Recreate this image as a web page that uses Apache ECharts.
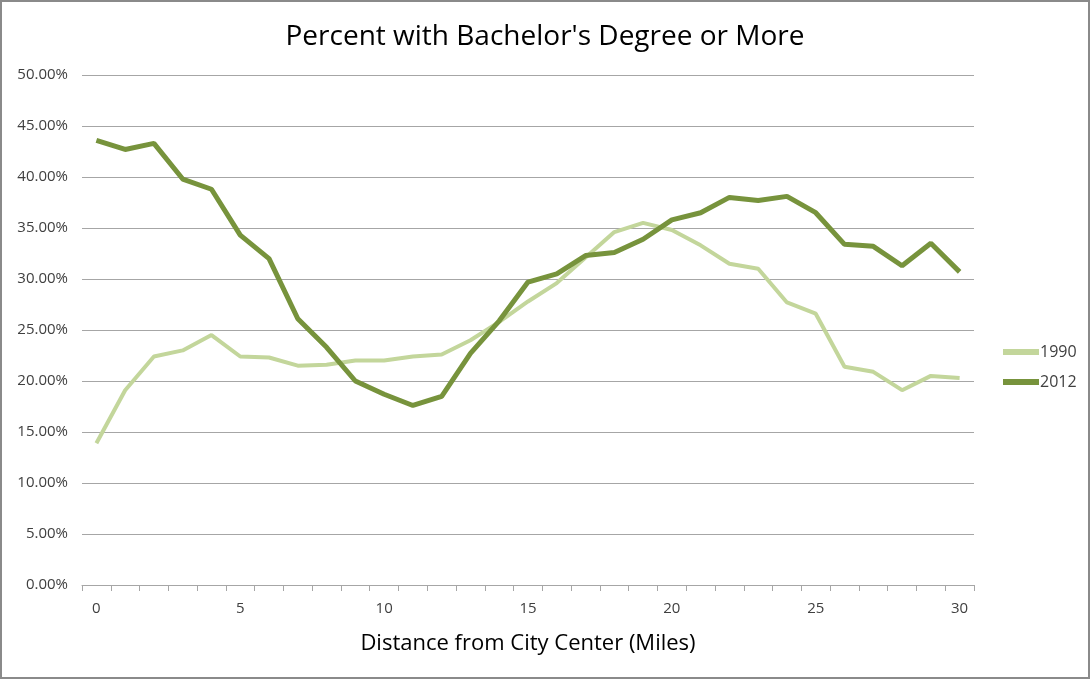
<!DOCTYPE html>
<html>
<head>
<meta charset="utf-8">
<title>Percent with Bachelor's Degree or More</title>
<script src="https://cdn.jsdelivr.net/npm/echarts@6/dist/echarts.min.js"></script>
<style>
  html, body { margin: 0; padding: 0; background: #fff; }
  #chart {
    width: 1090px; height: 679px;
    box-sizing: border-box;
    border: 2px solid #8a8a8a;
  }
</style>
</head>
<body>
<div id="chart"></div>
<script>
// distance from city center, miles
var miles = [];
for (var m = 0; m <= 30; m++) { miles.push(String(m)); }

// share of adults with a bachelor's degree or more (%)
var pct1990 = [13.9, 19.1, 22.4, 23.0, 24.5, 22.4, 22.3, 21.5, 21.6, 22.0,
  22.0, 22.4, 22.6, 24.0, 25.8, 27.8, 29.6, 32.1, 34.6, 35.5,
  34.8, 33.3, 31.5, 31.0, 27.7, 26.6, 21.4, 20.9, 19.1, 20.5, 20.3];
var pct2012 = [43.6, 42.7, 43.3, 39.8, 38.8, 34.3, 32.0, 26.1, 23.3, 20.0,
  18.7, 17.6, 18.5, 22.7, 25.9, 29.7, 30.5, 32.3, 32.6, 33.9,
  35.8, 36.5, 38.0, 37.7, 38.1, 36.5, 33.4, 33.2, 31.3, 33.5, 30.7];

var fontFam = '"Open Sans", "Noto Sans", sans-serif';
var chart = echarts.init(document.getElementById('chart'));

chart.setOption({
  backgroundColor: '#fff',
  animation: false,
  color: ['#c3d69b', '#77933c'],
  title: {
    text: "Percent with Bachelor's Degree or More",
    left: 'center',
    top: 16,
    textStyle: { fontFamily: fontFam, fontSize: 28, fontWeight: 'normal', color: '#000' }
  },
  legend: {
    orient: 'vertical',
    left: 996,
    top: 337,
    itemWidth: 36,
    itemHeight: 6,
    itemGap: 14,
    icon: 'rect',
    textStyle: { fontFamily: fontFam, fontSize: 16, color: '#404040', padding: [0, 0, 0, -4] },
    data: ['1990', '2012']
  },
  grid: { left: 80, right: 114, top: 73, bottom: 92 },
  xAxis: {
    type: 'category',
    data: miles,
    boundaryGap: true,
    name: 'Distance from City Center (Miles)',
    nameLocation: 'middle',
    nameGap: 48,
    nameTextStyle: { fontFamily: fontFam, fontSize: 22, color: '#000' },
    axisLine: { lineStyle: { color: '#a6a6a6', width: 1 } },
    axisTick: { show: true, interval: 0, length: 6, inside: false, lineStyle: { color: '#a6a6a6' } },
    axisLabel: {
      interval: function (i) { return i % 5 === 0; },
      margin: 16,
      fontFamily: fontFam, fontSize: 15, color: '#404040'
    }
  },
  yAxis: {
    type: 'value',
    min: 0,
    max: 50,
    interval: 5,
    axisLine: { show: false },
    axisTick: { show: false },
    axisLabel: {
      margin: 14,
      fontFamily: fontFam, fontSize: 15, color: '#404040',
      formatter: function (v) { return v.toFixed(2) + '%'; }
    },
    splitLine: { lineStyle: { color: '#a6a6a6', width: 1 } }
  },
  series: [
    {
      name: '1990', type: 'line', data: pct1990,
      symbol: 'none', lineStyle: { width: 4, color: '#c3d69b' }
    },
    {
      name: '2012', type: 'line', data: pct2012,
      symbol: 'none', lineStyle: { width: 5, color: '#77933c' }
    }
  ]
});
</script>
</body>
</html>
